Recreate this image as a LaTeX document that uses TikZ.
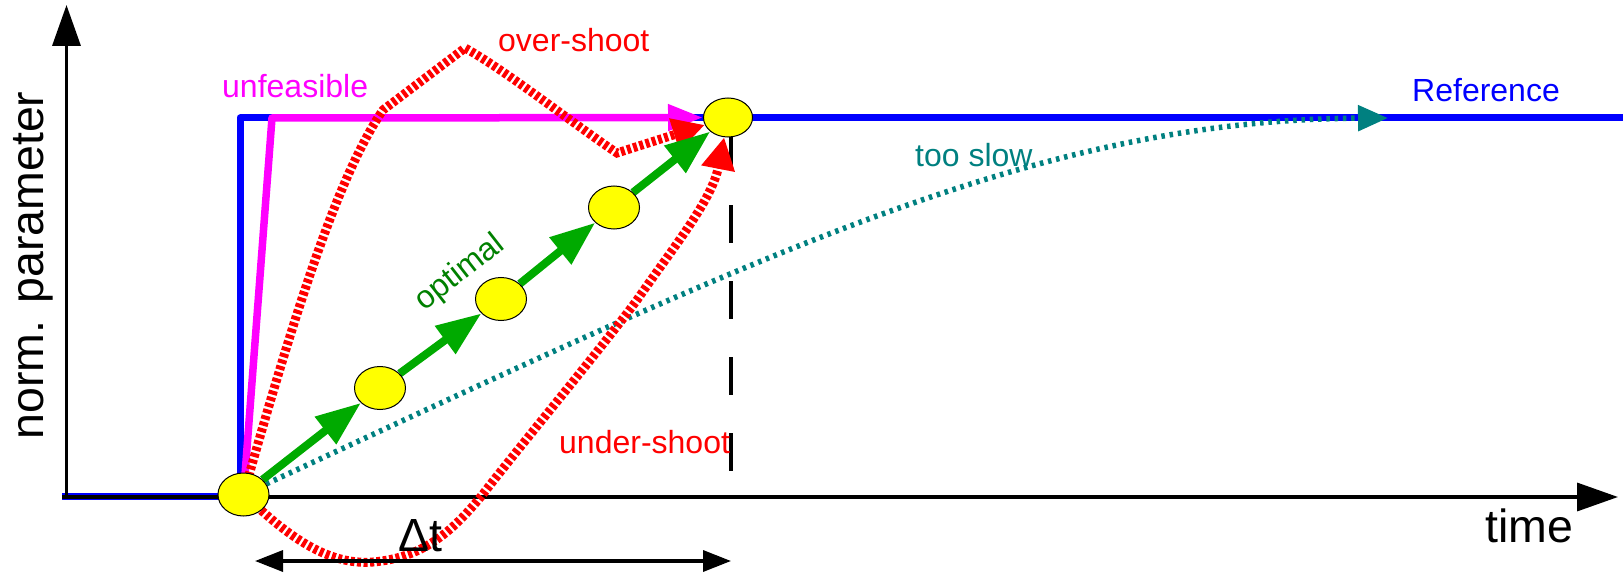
\documentclass[tikz,border=0pt]{standalone}
\usepackage{fontspec}
\setmainfont{Liberation Sans}
\usetikzlibrary{arrows.meta,backgrounds,shapes.geometric}
\definecolor{refblue}{RGB}{0,0,255}
\definecolor{magen}{RGB}{255,0,255}
\definecolor{shootred}{RGB}{255,0,0}
\definecolor{slowteal}{RGB}{0,128,128}
\definecolor{optgreen}{RGB}{0,170,0}
\definecolor{opttext}{RGB}{0,128,0}
\definecolor{dotyellow}{RGB}{255,255,0}
\begin{document}
\begin{tikzpicture}[x=1pt,y=-1pt,
  dotnode/.style={ellipse, draw=black, line width=1pt, fill=dotyellow, minimum width=51pt, minimum height=43pt, inner sep=0pt},
  lbl/.style={font=\fontsize{32pt}{38pt}\selectfont, inner sep=0pt, anchor=base west},
  biglbl/.style={font=\fontsize{46.5pt}{54pt}\selectfont, inner sep=0pt},
  axisline/.style={line width=3.5pt, draw=black, -{Triangle[length=41pt,width=28pt]}},
  refline/.style={line width=7pt, draw=refblue, line join=round},
  unfeas/.style={line width=7.5pt, draw=magen, line join=round, -{Triangle[length=35pt,width=25pt]}},
  shoot/.style={line width=9pt, draw=shootred, dash pattern=on 4pt off 2.5pt, -{Triangle[length=32pt,width=32pt]}},
  slow/.style={line width=5.5pt, draw=slowteal, dash pattern=on 3.5pt off 4.8pt, -{Triangle[length=30pt,width=25pt]}},
  opt/.style={line width=8pt, draw=optgreen, -{Triangle[length=45pt,width=33pt]}},
  vdash/.style={line width=3.5pt, draw=black, dash pattern=on 38pt off 38pt, dash phase=64.5pt},
  dtarrow/.style={line width=3.5pt, draw=black, {Triangle[length=28pt,width=21pt]}-{Triangle[length=28pt,width=21pt]}}
]
\useasboundingbox (0,0) rectangle (1623,575);

% state dots
\node[dotnode] (n1) at (243.5,494.5) {};
\node[dotnode] (n2) at (380,388) {};
\node[dotnode] (n3) at (501,299) {};
\node[dotnode] (n4) at (614,207.5) {};
\node[dotnode, minimum width=49pt, minimum height=39pt] (n5) at (728,117.5) {};

% helper coordinates
\coordinate (origin) at (66.5,498.5);
\coordinate (xstart) at (62,497);
\coordinate (xtip) at (1618,497);
\coordinate (ytip) at (66.5,5);
\coordinate (ref0) at (62,496);
\coordinate (ref1) at (240,496);
\coordinate (ref2) at (240,118);
\coordinate (ref3) at (1630,118);
\coordinate (magcorner) at (272,118);
\coordinate (slowtip) at (1388,118);
\coordinate (vlend) at (731,473);
\coordinate (dtL) at (255,561);
\coordinate (dtR) at (731,561);

% labels
\node[lbl, text=magen] (tunf) at (222,98) {unfeasible};
\node[lbl, text=shootred] (tover) at (498,52) {over-shoot};
\node[lbl, text=refblue] (tref) at (1412,102) {Reference};
\node[lbl, text=slowteal] (tslow) at (915,167) {too slow};
\node[lbl, text=shootred] (tunder) at (559,453) {under-shoot};
\node[lbl, text=opttext, anchor=center, rotate=38] (topt) at (460,273) {optimal};
\node[biglbl, anchor=base west] (ttime) at (1485,542) {time};
\node[biglbl, anchor=base west] (tdt) at (398,551) {Δt};
\node[biglbl, anchor=base, rotate=90] (tpar) at (43,265.5) {norm. parameter};

\begin{scope}[on background layer]
  \draw[refline] (ref0) -- (ref1) -- (ref2) -- (ref3);
  \draw[axisline] (xstart) -- (xtip);
  \draw[axisline] (origin) -- (ytip);
  \draw[unfeas] (n1.center) -- (magcorner) -- (n5);
  \draw[vdash] (n5.center -| vlend) -- (vlend);
  \draw[slow] (n1) .. controls (762,254) and (1038,120) .. (slowtip);
  \draw[shoot] (n1.center) .. controls (290,330) and (335,180) .. (383,110)
     -- (465,48) .. controls (505,70) and (575,125) .. (617,153) -- (n5);
  \draw[shoot] (n1) .. controls (300,545) and (335,565) .. (373,562)
     .. controls (420,558) and (450,535) .. (483,494)
     .. controls (520,446) and (600,350) .. (637,300)
     .. controls (675,245) and (712,200) .. (n5);
  \draw[opt] (n1) -- (n2);
  \draw[opt] (n2) -- (n3);
  \draw[opt] (n3) -- (n4);
  \draw[opt] (n4) -- (n5);
  \draw[dtarrow] (dtL) -- (dtR);
\end{scope}
\end{tikzpicture}
\end{document}
